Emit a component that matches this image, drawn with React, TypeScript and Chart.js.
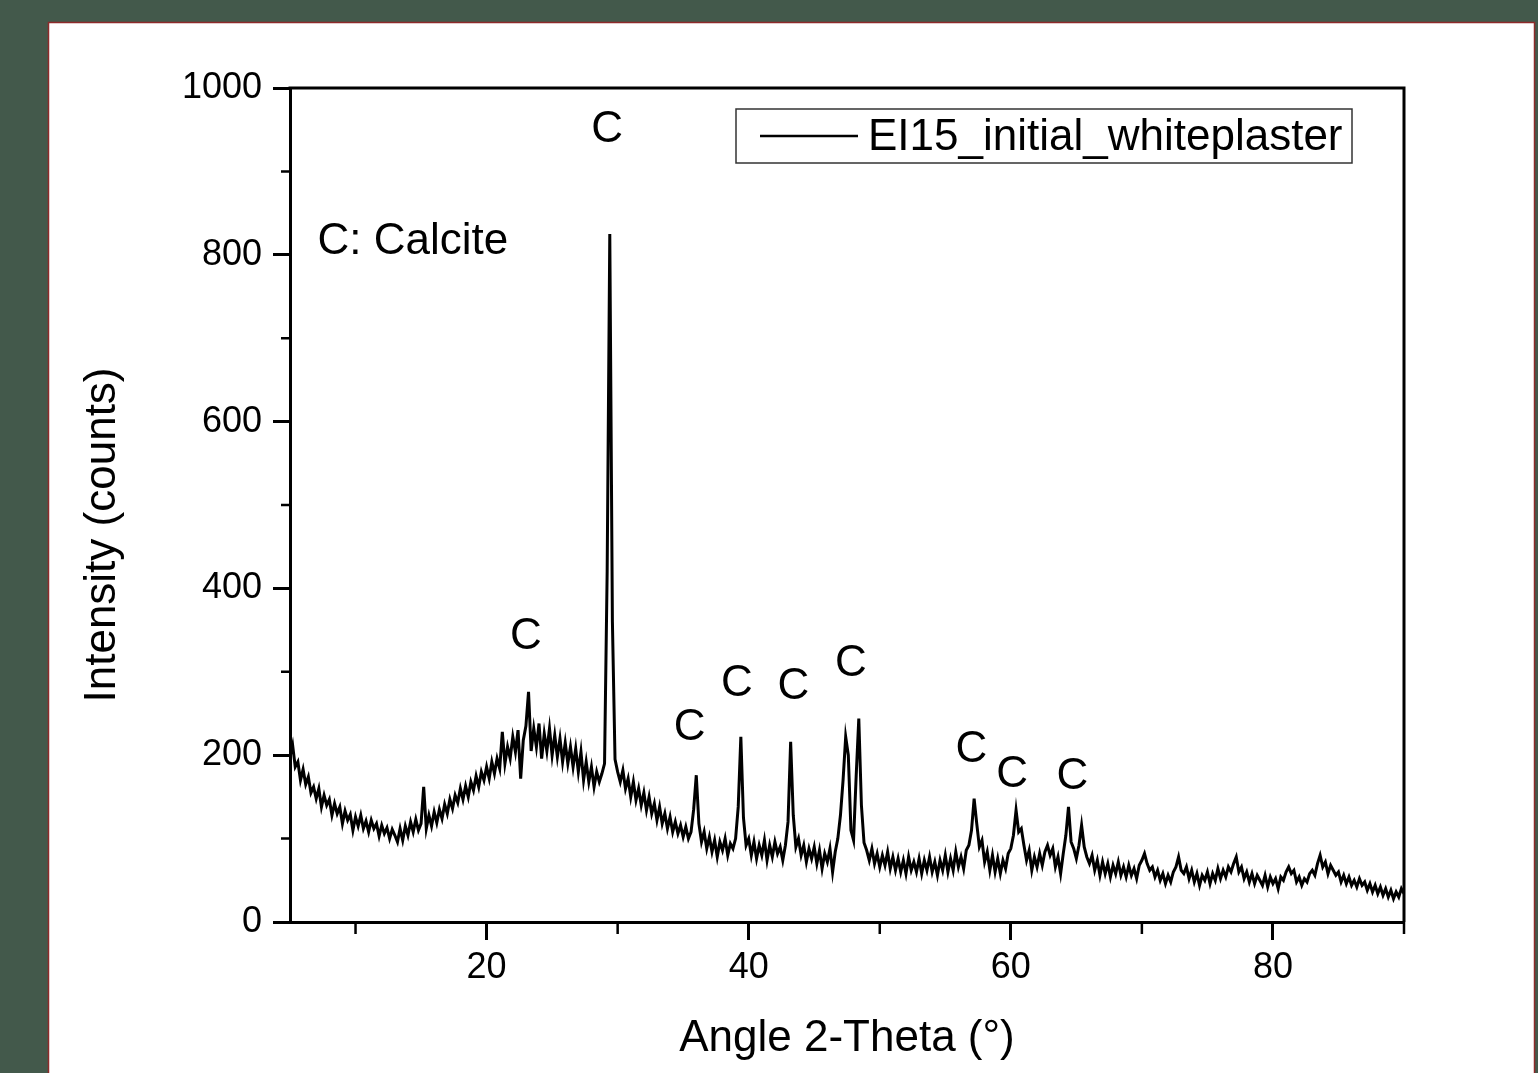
import React, { useEffect, useRef } from 'react';
import { Chart, registerables } from 'chart.js';

Chart.register(...registerables);

const W = 1538;
const H = 1073;
const FONT = '"Liberation Sans", Arial, sans-serif';

// measurement grid (2-theta start and step, degrees)
const angleStart = 5;
const angleStep = 0.2;

// intensity (counts), one value per 0.2 degree from 5.0 to 90.0
const counts: number[] = [
  198, 212, 186, 192, 170, 183, 165, 174, 155, 162, // 5.0
  148, 160, 138, 152, 140, 147, 128, 142, 130, 138, // 7.0
  118, 133, 122, 129, 110, 126, 115, 128, 112, 121, // 9.0
  108, 122, 112, 118, 103, 116, 106, 113, 100, 111, // 11.0
  104, 96, 112, 98, 115, 104, 120, 108, 123, 110, // 13.0
  118, 162, 112, 128, 115, 132, 119, 135, 124, 141, // 15.0
  130, 147, 136, 152, 143, 160, 147, 163, 150, 168, // 17.0
  158, 175, 162, 180, 170, 186, 172, 192, 178, 196, // 19.0
  184, 228, 190, 210, 196, 222, 204, 230, 172, 218, // 21.0
  235, 276, 205, 232, 210, 238, 196, 226, 205, 232, // 23.0
  200, 224, 198, 220, 192, 215, 190, 210, 186, 208, // 25.0
  180, 204, 170, 192, 168, 186, 162, 180, 168, 178, // 27.0
  190, 420, 825, 360, 195, 180, 168, 182, 160, 172, // 29.0
  150, 168, 146, 160, 140, 155, 134, 150, 130, 142, // 31.0
  122, 138, 118, 130, 112, 126, 108, 120, 106, 116, // 33.0
  102, 114, 100, 108, 135, 176, 118, 96, 108, 88, // 35.0
  102, 84, 98, 78, 96, 86, 100, 80, 94, 88, // 37.0
  100, 138, 222, 125, 92, 100, 80, 96, 76, 92, // 39.0
  80, 98, 74, 92, 78, 96, 82, 90, 74, 92, // 41.0
  120, 216, 128, 90, 100, 80, 92, 72, 88, 76, // 43.0
  90, 70, 86, 64, 82, 72, 88, 60, 84, 100, // 45.0
  128, 170, 222, 200, 110, 98, 175, 244, 140, 95, // 47.0
  86, 74, 88, 70, 82, 66, 80, 68, 84, 64, // 49.0
  78, 62, 76, 60, 74, 58, 78, 62, 72, 60, // 51.0
  76, 58, 74, 62, 78, 60, 72, 56, 74, 62, // 53.0
  80, 60, 76, 62, 84, 66, 78, 64, 86, 92, // 55.0
  110, 148, 118, 90, 98, 72, 84, 62, 80, 60, // 57.0
  76, 58, 74, 64, 82, 88, 104, 134, 108, 112, // 59.0
  92, 74, 86, 62, 78, 66, 82, 68, 84, 92, // 61.0
  80, 88, 66, 78, 58, 82, 104, 138, 96, 88, // 63.0
  76, 92, 116, 90, 78, 70, 80, 62, 74, 56, // 65.0
  72, 58, 70, 54, 68, 58, 72, 56, 66, 54, // 67.0
  68, 56, 64, 52, 68, 74, 82, 70, 62, 66, // 69.0
  54, 62, 50, 58, 46, 56, 48, 60, 66, 78, // 71.0
  62, 58, 66, 52, 62, 48, 58, 44, 56, 50, // 73.0
  60, 46, 58, 50, 64, 52, 62, 54, 66, 60, // 75.0
  70, 78, 60, 66, 52, 60, 48, 58, 46, 56, // 77.0
  50, 44, 56, 42, 54, 46, 52, 40, 54, 50, // 79.0
  60, 66, 58, 62, 48, 54, 44, 52, 48, 58, // 81.0
  62, 56, 70, 80, 66, 72, 58, 68, 62, 56, // 83.0
  60, 48, 56, 46, 54, 44, 50, 42, 52, 44, // 85.0
  48, 38, 46, 36, 44, 34, 42, 32, 40, 30, // 87.0
  38, 28, 36, 30, 40, 34, // 89.0
];

const seriesName = 'EI15_initial_whiteplaster';
const xTitle = 'Angle 2-Theta (°)';
const yTitle = 'Intensity (counts)';

const xMin = 5;
const xMax = 90;
const yMin = 0;
const yMax = 1000;
const xMajorTicks = [20, 40, 60, 80];
const xMinorTicks = [10, 30, 50, 70, 90];
const yMajorTicks = [0, 200, 400, 600, 800, 1000];
const yMinorTicks = [100, 300, 500, 700, 900];

// peak labels ("C" = calcite), placed in data coordinates
const peakLabelAngles = [29.2, 23.0, 35.5, 39.1, 43.4, 47.8, 57.0, 60.1, 64.7];
const peakLabelCounts = [950, 342, 233, 285, 282, 309, 207, 177, 174];
const peakLabelText = 'C';
const phaseNote = 'C: Calcite';
const phaseNoteAngle = 7.1;
const phaseNoteCount = 816;

const decorPlugin = {
  id: 'decor',
  beforeDraw(chart: any) {
    const ctx = chart.ctx;
    ctx.save();
    ctx.fillStyle = '#43594b';
    ctx.fillRect(0, 0, W, H);
    ctx.fillStyle = '#ffffff';
    ctx.fillRect(48, 22, 1487, 1080);
    ctx.strokeStyle = '#8e2a2a';
    ctx.lineWidth = 1.5;
    ctx.strokeRect(48.5, 22.5, 1486, 1080);
    ctx.restore();
  },
  afterDraw(chart: any) {
    const { ctx, chartArea: a } = chart;
    const xs = chart.scales.x;
    const ys = chart.scales.y;
    ctx.save();
    // top and right frame
    ctx.strokeStyle = '#000';
    ctx.lineWidth = 3;
    ctx.beginPath();
    ctx.moveTo(a.left - 1.5, a.top);
    ctx.lineTo(a.right, a.top);
    ctx.lineTo(a.right, a.bottom);
    ctx.stroke();
    // minor ticks
    ctx.lineWidth = 2.5;
    ctx.beginPath();
    xMinorTicks.forEach((v) => {
      const px = xs.getPixelForValue(v);
      ctx.moveTo(px, a.bottom);
      ctx.lineTo(px, a.bottom + 12);
    });
    yMinorTicks.forEach((v) => {
      const py = ys.getPixelForValue(v);
      ctx.moveTo(a.left, py);
      ctx.lineTo(a.left - 9, py);
    });
    ctx.stroke();

    // annotations
    ctx.fillStyle = '#000';
    ctx.font = `44px ${FONT}`;
    ctx.textAlign = 'center';
    ctx.textBaseline = 'middle';
    peakLabelAngles.forEach((ang, i) => {
      ctx.fillText(peakLabelText, xs.getPixelForValue(ang), ys.getPixelForValue(peakLabelCounts[i]));
    });
    ctx.textAlign = 'left';
    ctx.fillText(phaseNote, xs.getPixelForValue(phaseNoteAngle), ys.getPixelForValue(phaseNoteCount));

    // legend
    const bx = a.right - 668;
    const by = a.top + 21;
    ctx.strokeStyle = '#333';
    ctx.lineWidth = 1.5;
    ctx.strokeRect(bx, by, 616, 54);
    ctx.strokeStyle = '#000';
    ctx.lineWidth = 2.5;
    ctx.beginPath();
    ctx.moveTo(bx + 24, by + 27);
    ctx.lineTo(bx + 122, by + 27);
    ctx.stroke();
    ctx.font = `44px ${FONT}`;
    ctx.textAlign = 'left';
    ctx.fillText(seriesName, bx + 132, by + 29);

    // axis titles
    ctx.textAlign = 'center';
    ctx.fillText(xTitle, (a.left + a.right) / 2, a.bottom + 117);
    ctx.translate(a.left - 187, (a.top + a.bottom) / 2 + 30);
    ctx.rotate(-Math.PI / 2);
    ctx.fillText(yTitle, 0, 0);
    ctx.restore();
  },
};

export default function App() {
  const ref = useRef<HTMLCanvasElement | null>(null);
  useEffect(() => {
    if (!ref.current) return;
    const points = counts.map((c, i) => ({ x: +(angleStart + i * angleStep).toFixed(1), y: c }));
    const chart = new Chart(ref.current, {
      type: 'line',
      data: {
        datasets: [
          {
            label: seriesName,
            data: points,
            borderColor: '#000',
            borderWidth: 3,
            pointRadius: 0,
            tension: 0,
            fill: false,
          },
        ],
      },
      options: {
        responsive: false,
        animation: false,
        devicePixelRatio: 1,
        layout: { padding: { left: 0, top: 88, right: 134, bottom: 0 } },
        plugins: { legend: { display: false }, tooltip: { enabled: false } },
        scales: {
          x: {
            type: 'linear',
            min: xMin,
            max: xMax,
            afterBuildTicks: (s: any) => {
              s.ticks = xMajorTicks.map((v) => ({ value: v }));
            },
            afterFit: (s: any) => {
              s.height = H - 922;
            },
            ticks: {
              color: '#000',
              font: { size: 36, family: FONT },
              padding: 6,
              maxRotation: 0,
              callback: (v: any) => String(v),
            },
            grid: { drawOnChartArea: false, drawTicks: true, tickLength: 18, tickWidth: 3, tickColor: '#000' },
            border: { display: true, color: '#000', width: 3 },
          },
          y: {
            type: 'linear',
            min: yMin,
            max: yMax,
            afterBuildTicks: (s: any) => {
              s.ticks = yMajorTicks.map((v) => ({ value: v }));
            },
            afterFit: (s: any) => {
              s.width = 290;
            },
            ticks: {
              color: '#000',
              font: { size: 36, family: FONT },
              padding: 11,
              callback: (v: any) => String(v),
            },
            grid: { drawOnChartArea: false, drawTicks: true, tickLength: 17, tickWidth: 3, tickColor: '#000' },
            border: { display: true, color: '#000', width: 3 },
          },
        },
      },
      plugins: [decorPlugin],
    });
    return () => chart.destroy();
  }, []);
  return (
    <div style={{ position: 'fixed', left: 0, top: 0, width: W, height: H, background: '#43594b' }}>
      <canvas ref={ref} width={W} height={H} style={{ display: 'block' }} />
    </div>
  );
}
